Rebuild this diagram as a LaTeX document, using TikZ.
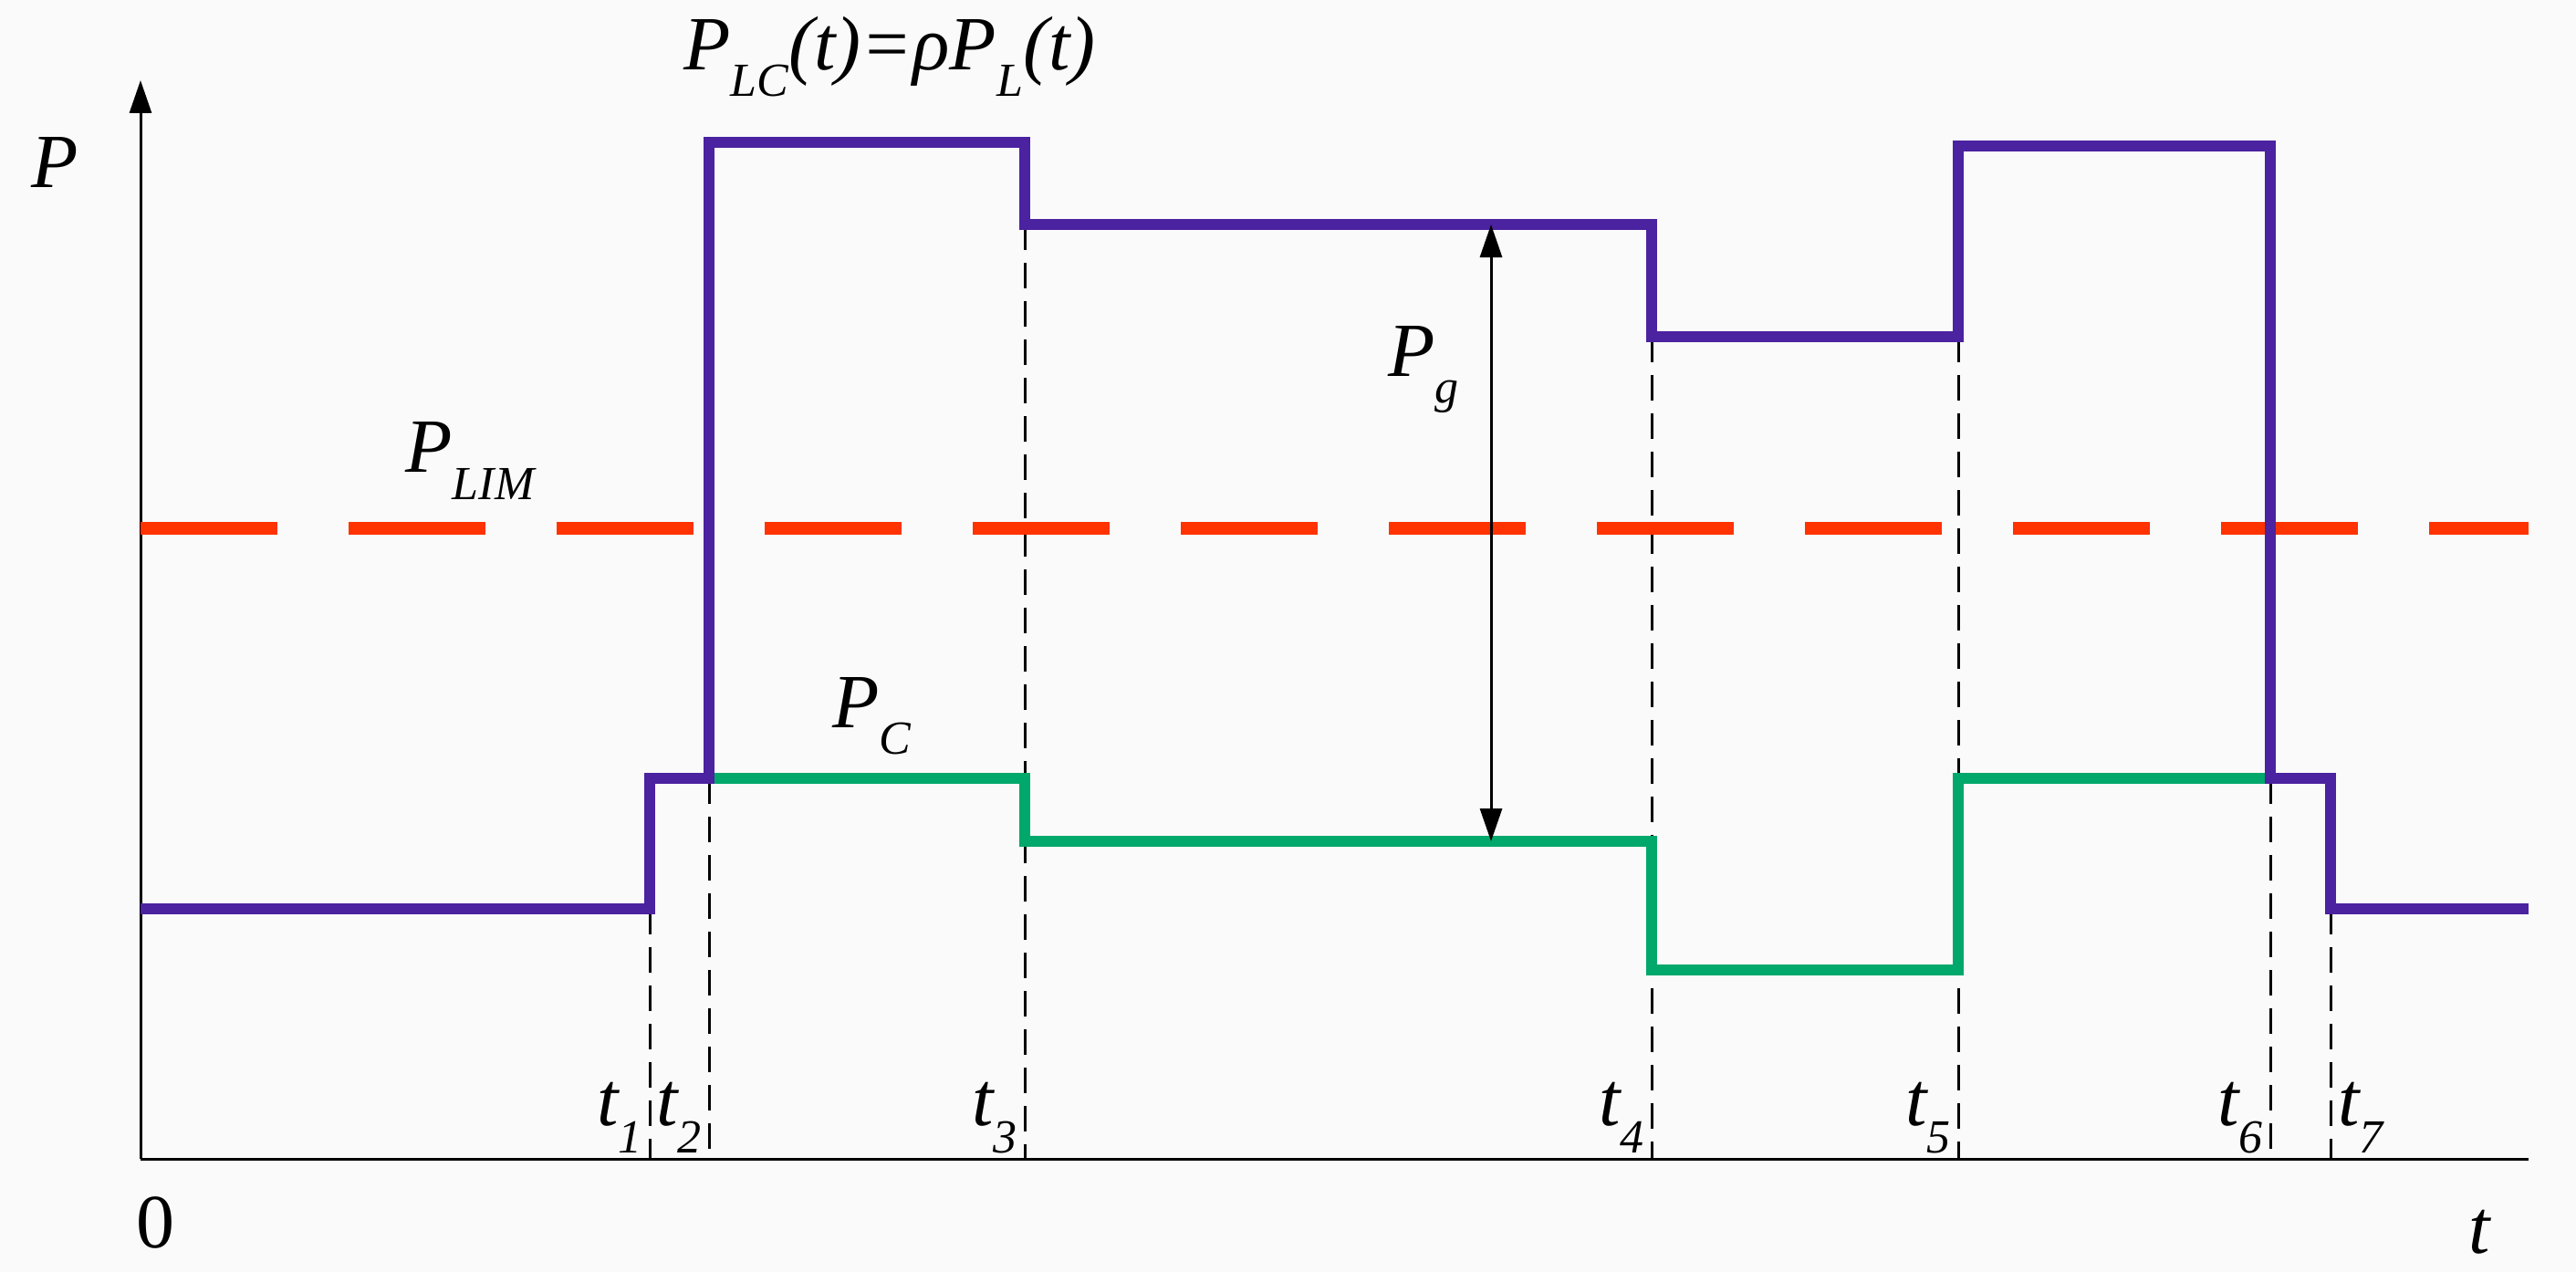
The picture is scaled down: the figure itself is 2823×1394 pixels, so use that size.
\documentclass[tikz,border=0pt]{standalone}
\usepackage{fontspec}
\setmainfont{Liberation Serif}
\usetikzlibrary{arrows.meta}
\newcommand{\lbl}[1]{\raisebox{-0.35em}{\fontsize{52}{52}\selectfont #1}}
\definecolor{pur}{HTML}{4B22A0}
\definecolor{grn}{HTML}{00A86B}
\definecolor{rd}{HTML}{FF3300}
\begin{document}
\begin{tikzpicture}[x=1pt,y=-1pt,
  txt/.style={font=\fontsize{84}{84}\selectfont\itshape, inner sep=0},
  pl/.style={draw=pur,line width=12pt},
  gl/.style={draw=grn,line width=12pt},
  guide/.style={draw=black,line width=3pt,dash pattern=on 28pt off 14pt}]
\useasboundingbox (0,0) rectangle (2823,1394);
\fill[white!98!black] (0,0) rectangle (2823,1394);
% axes
\coordinate (O) at (154,1270);
\coordinate (Ytop) at (154,88);
\coordinate (Xend) at (2771,1270);
\draw[line width=3pt,-{Triangle[length=36pt,width=24pt]}] (O) -- (Ytop);
\draw[line width=3pt] (O) -- (Xend);
% guides
\foreach \x/\y in {712/996,777/853,1123/246,1810/369,2146/369,2488/853,2554/996}
  \draw[guide] (\x,\y) -- (\x,1270);
% red limit
\coordinate (L1) at (154,579);
\coordinate (L2) at (2771,579);
\draw[rd,line width=14pt,dash pattern=on 150pt off 78pt] (L1) -- (L2);
% green
\draw[gl] (777,853) -- (1123,853) -- (1123,922) -- (1810,922) -- (1810,1063) -- (2146,1063) -- (2146,853) -- (2488,853);
% purple
\draw[pl,line join=miter] (154,996) -- (712,996) -- (712,853) -- (777,853) -- (777,156) -- (1123,156) -- (1123,246) -- (1810,246) -- (1810,369) -- (2146,369) -- (2146,160) -- (2488,160) -- (2488,853) -- (2554,853) -- (2554,996) -- (2771,996);
% Pg arrow
\coordinate (A1) at (1634,246);
\coordinate (A2) at (1634,922);
\draw[line width=3pt,{Triangle[length=36pt,width=24pt]}-{Triangle[length=36pt,width=24pt]}] (A1) -- (A2);
% labels
\node[txt] (lp) at (60,178) {P};
\node[txt] (lpl) at (515,505) {P\lbl{LIM}};
\node[txt] (lplc) at (975,62) {P\lbl{LC}(t)=ρP\lbl{L}(t)};
\node[txt] (lpc) at (955,785) {P\lbl{C}};
\node[txt] (lpg) at (1560,405) {P\lbl{g}};
\node[font=\fontsize{84}{84}\selectfont, inner sep=0] (l0) at (170,1340) {0};
\node[txt] (lt) at (2717,1350) {t};
\foreach \x/\n in {712/1,777/2,1123/3,1810/4,2146/5,2488/6}
  \node[txt,anchor=east] at (\x-8,1225) {t\lbl{\n}};
\node[txt,anchor=west] at (2562,1225) {t\lbl{7}};
\end{tikzpicture}
\end{document}
